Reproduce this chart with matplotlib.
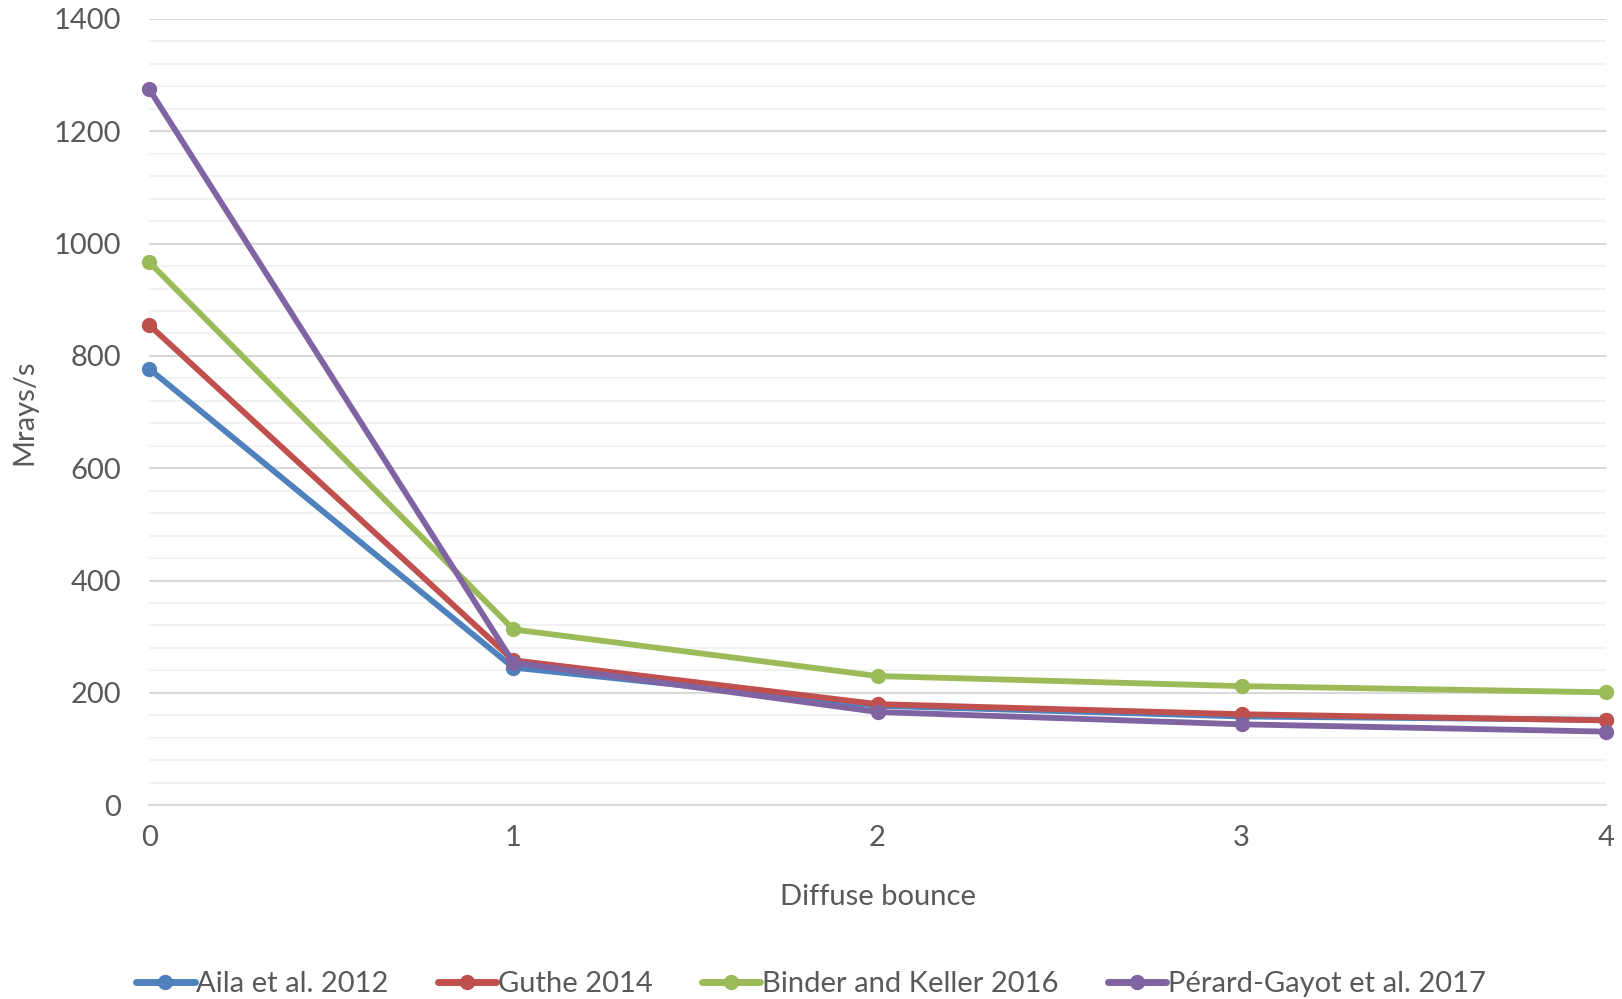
import numpy as np
import matplotlib.pyplot as plt
from matplotlib.ticker import MultipleLocator

plt.rcParams['font.family'] = ['Lato', 'DejaVu Sans']

bounces = [0, 1, 2, 3, 4]
aila = [777, 245, 177, 158, 152]
guthe = [855, 258, 180, 162, 151]
binder = [967, 313, 230, 212, 201]
perard = [1275, 254, 166, 144, 131]

labels = ["Aila et al. 2012", "Guthe 2014", "Binder and Keller 2016", "Pérard-Gayot et al. 2017"]
colors = ["#4F81BD", "#C0504D", "#9BBB59", "#8064A2"]
TXT = "#595959"

fig = plt.figure(figsize=(16.22, 9.99), dpi=100)
ax = fig.add_axes([0.092, 0.194, 0.898, 0.787])

for ys, lab, c in zip([aila, guthe, binder, perard], labels, colors):
    ax.plot(bounces, ys, "-o", color=c, lw=4.2, ms=10, label=lab, solid_capstyle="round", clip_on=False, zorder=3)

ax.set_xlim(0, 4)
ax.set_ylim(0, 1400)
ax.xaxis.set_major_locator(MultipleLocator(1))
ax.yaxis.set_major_locator(MultipleLocator(200))
ax.yaxis.set_minor_locator(MultipleLocator(40))
ax.grid(axis="y", which="major", color="#D9D9D9", lw=1.5, zorder=0)
ax.grid(axis="y", which="minor", color="#F2F2F2", lw=1.5, zorder=0)
ax.set_axisbelow(True)
for s in ["top", "right", "left"]:
    ax.spines[s].set_visible(False)
ax.spines["bottom"].set_color("#D9D9D9")
ax.spines["bottom"].set_linewidth(1.5)
ax.tick_params(axis="both", which="both", length=0, labelsize=21, labelcolor=TXT)
ax.tick_params(axis="x", pad=14)
ax.tick_params(axis="y", pad=20)

ax.set_xlabel("Diffuse bounce", fontsize=21, color=TXT, labelpad=24)
ax.set_ylabel("Mrays/s", fontsize=21, color=TXT, labelpad=12)

leg = fig.legend(loc="center", bbox_to_anchor=(0.5, 0.015), ncol=4, frameon=False,
                 fontsize=21, labelcolor=TXT, handlelength=2.0, handletextpad=0.05,
                 columnspacing=1.7, markerscale=1.0)
for h in leg.get_lines():
    h.set_linewidth(5)

fig.savefig("out.png", dpi=100)
